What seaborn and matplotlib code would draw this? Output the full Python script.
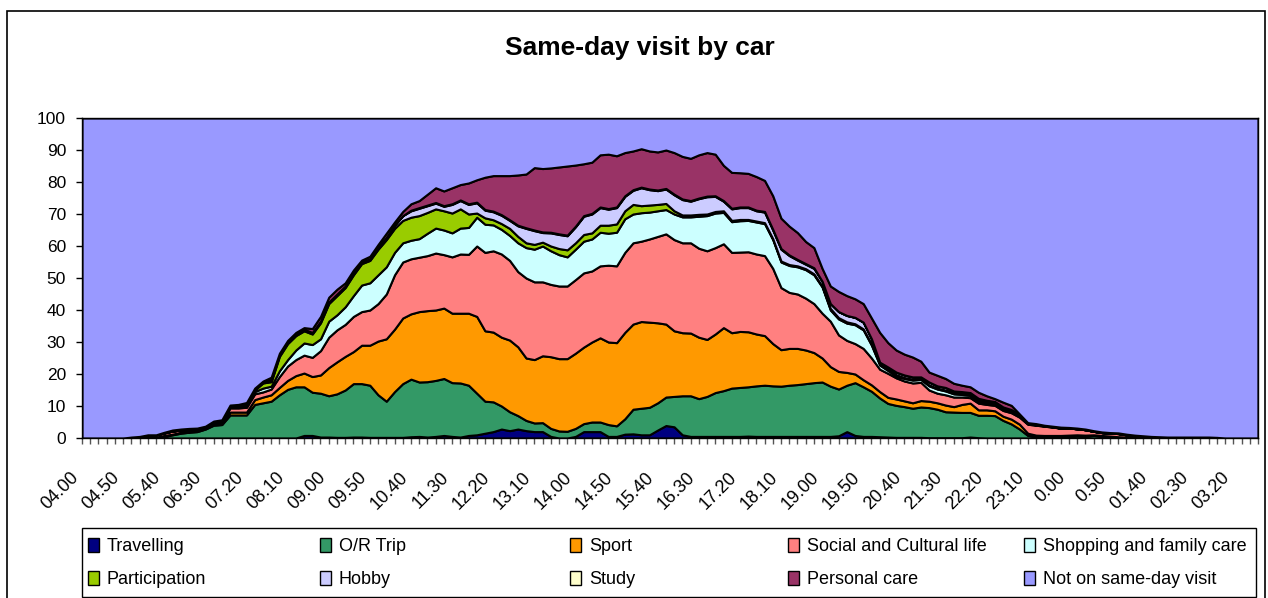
import matplotlib
matplotlib.use("Agg")
import matplotlib.pyplot as plt
import matplotlib.transforms as mtransforms
from matplotlib.patches import Patch, Rectangle
import numpy as np
import seaborn as sns

# 10-minute slots from 04.00 to 03.50 (144 slots), every 5th one labelled
tick_labels = ["04.00", "04.50", "05.40", "06.30", "07.20", "08.10", "09.00",
               "09.50", "10.40", "11.30", "12.20", "13.10", "14.00", "14.50",
               "15.40", "16.30", "17.20", "18.10", "19.00", "19.50", "20.40",
               "21.30", "22.20", "23.10", "0.00", "0.50", "01.40", "02.30", "03.20"]

# shares (%) of each activity
travelling = [0, 0, 0, 0, 0, 0, 0, 0, 0, 0, 0, 0,
              0, 0, 0, 0, 0, 0, 0, 0, 0, 0, 0, 0,
              0, 0, 0, 0.8, 0.8, 0.3, 0.3, 0.2, 0.2, 0.3, 0.3, 0.2,
              0.2, 0.2, 0.2, 0.2, 0.4, 0.5, 0.3, 0.5, 0.8, 0.5, 0.3, 0.8,
              1, 1.5, 2, 2.8, 2.3, 2.8, 2.3, 2, 2, 0.5, 0, 0,
              0.5, 2, 2, 2, 0.5, 0.5, 1.2, 1.3, 1, 1, 2.5, 3.9,
              3.5, 1, 0.5, 0.5, 0.5, 0.5, 0.5, 0.5, 0.5, 0.6, 0.5, 0.5,
              0.5, 0.5, 0.5, 0.5, 0.5, 0.5, 0.5, 0.5, 0.7, 2, 0.8, 0.5,
              0.5, 0.4, 0.3, 0.2, 0.2, 0.2, 0.2, 0.1, 0.1, 0.1, 0.1, 0.1,
              0.3, 0.1, 0, 0, 0, 0, 0, 0, 0, 0, 0, 0,
              0, 0, 0, 0, 0, 0, 0, 0, 0, 0, 0, 0,
              0, 0, 0, 0, 0, 0, 0, 0, 0, 0, 0, 0]
or_trip = [0, 0, 0, 0, 0, 0, 0, 0, 0.3, 0.3, 0.5, 1,
           1.5, 1.8, 2, 2.8, 4, 4.2, 7.2, 7.2, 7.2, 10.5, 11, 11.5,
           13.5, 15.2, 16, 15.2, 13.5, 13.7, 12.9, 13.6, 14.8, 16.7, 16.7, 16.3,
           13.3, 11.3, 14.3, 16.8, 18, 17, 17.3, 17.5, 17.8, 16.8, 16.9, 15.7,
           13, 10, 9.3, 7.2, 5.9, 4.2, 3.2, 2.7, 2.8, 2.5, 2.2, 2.1,
           2.5, 2.5, 3, 3, 3.7, 3.3, 4.8, 7.7, 8.3, 8.6, 8.5, 8.9,
           9.5, 12.2, 12.7, 11.8, 12.5, 13.7, 14.3, 15.1, 15.3, 15.4, 15.8, 16,
           15.8, 15.7, 16, 16.2, 16.5, 16.8, 17, 15.7, 14.6, 14.5, 16.5, 15.5,
           14.1, 12.1, 10.5, 10, 9.6, 9.1, 9.5, 9.4, 8.9, 8.1, 8, 7.9,
           7.7, 7, 7.1, 7, 5.5, 4.4, 2.8, 0.8, 0.5, 0.5, 0.5, 0.5,
           0.6, 0.7, 0.6, 0.8, 0.6, 0.4, 0.3, 0.2, 0.1, 0, 0, 0,
           0, 0, 0, 0, 0, 0, 0, 0, 0, 0, 0, 0]
sport = [0, 0, 0, 0, 0, 0, 0, 0, 0, 0, 0.3, 0.2,
         0.3, 0.2, 0.3, 0.4, 0.6, 0.5, 0.9, 0.9, 0.9, 1.5, 1.8, 2,
         2.3, 2.8, 3.5, 4.3, 4.9, 5.7, 8.8, 10, 10.5, 10, 12, 12.5,
         16.8, 19.5, 19.5, 20.5, 20.4, 22, 22.2, 22, 22, 21.7, 21.8, 22.5,
         24, 22, 21.8, 21.5, 22.4, 21.5, 19.5, 19.8, 20.9, 22.4, 22.6, 22.7,
         23.5, 23.9, 25, 26.3, 25.8, 26, 27, 26.6, 27.1, 26.6, 25, 22.8,
         20.5, 19.7, 19.6, 19.2, 17.8, 18.3, 19.7, 17.3, 17.5, 17.2, 16.2, 15.5,
         13.2, 11.4, 11.5, 11.3, 10.5, 9.4, 7.5, 6.1, 5.5, 4, 2.7, 2.2,
         2, 2, 1.9, 2, 1.8, 1.7, 2, 2, 2, 2.1, 1.7, 2.5,
         2.9, 1.7, 1.7, 1.5, 1.3, 1.5, 1.5, 0.7, 0.4, 0.3, 0.3, 0.3,
         0.3, 0.3, 0.3, 0.2, 0.2, 0.2, 0.1, 0.1, 0, 0, 0, 0,
         0, 0, 0, 0, 0, 0, 0, 0, 0, 0, 0, 0]
social = [0, 0, 0, 0, 0, 0, 0.3, 0.5, 0.7, 0.7, 0.8, 1.0,
          0.7, 0.6, 0.4, 0.3, 0.4, 0.4, 1.3, 1.3, 1.5, 1.8, 1.6, 1.8,
          3.4, 4.5, 5, 5.6, 6, 7.6, 9.5, 10, 10, 11, 10.5, 11,
          11.7, 14, 17, 17.5, 17.2, 17, 17.2, 17.8, 16.7, 17.6, 18.5, 18.4,
          22, 24.5, 25.4, 26, 24.9, 23.5, 25, 24.3, 23.1, 22.6, 22.7, 22.7,
          23, 23.2, 22.2, 22.5, 24, 24, 25, 25.4, 25.1, 26, 27, 28.2,
          28.5, 28.1, 28.2, 27.8, 27.7, 27, 26.2, 25.1, 24.8, 25, 25, 25,
          23.5, 19.4, 17.5, 17, 16.2, 15.3, 14, 14.2, 11.4, 10, 9.5, 9.8,
          8.4, 7, 7.5, 6.6, 6.2, 6.2, 5.7, 3.5, 3, 3.2, 3, 2.3,
          1.7, 2.1, 1.7, 1.7, 1.8, 2, 2.2, 2.8, 3.1, 2.9, 2.6, 2.3,
          2.2, 1.9, 1.7, 1.1, 0.9, 0.9, 1.0, 0.7, 0.6, 0.4, 0.2, 0.1,
          0, 0, 0, 0, 0, 0, 0, 0, 0, 0, 0, 0]
shopping = [0, 0, 0, 0, 0, 0, 0, 0, 0, 0, 0, 0,
            0, 0, 0, 0.1, 0.1, 0.2, 0.3, 0.3, 0.4, 0.7, 1.2, 0.9,
            1.8, 2, 3, 3.8, 4, 3.7, 5, 4.7, 5.5, 6.5, 8.3, 8.5,
            9, 8.5, 7, 6, 5.8, 5.8, 7, 7.8, 7.7, 7.5, 8.1, 8.4,
            9, 8.8, 8.1, 7.7, 7.8, 9, 9.5, 10.2, 11.2, 10.5, 9.8, 9.1,
            9.5, 9.9, 10, 10.5, 10, 10.5, 10.5, 9, 8.9, 8.4, 8, 7.6,
            8, 8.1, 8.1, 10, 11, 10.8, 9.8, 9.6, 9.8, 9.8, 10, 10,
            9, 8, 8.4, 8.5, 8.9, 9, 8.2, 3.5, 5, 5.4, 5.9, 5.8,
            4, 1.3, 0.9, 0.6, 0.8, 0.9, 0.9, 1.3, 1.3, 1.2, 1, 0.8,
            0.7, 0.6, 0.5, 0.5, 0.4, 0.4, 0.3, 0.2, 0.1, 0.1, 0.1, 0,
            0, 0, 0, 0, 0, 0, 0, 0, 0, 0, 0, 0,
            0, 0, 0, 0, 0, 0, 0, 0, 0, 0, 0, 0]
participation = [0, 0, 0, 0, 0, 0, 0, 0, 0, 0, 0, 0,
                 0, 0, 0, 0, 0, 0, 0.3, 0.4, 0.6, 0.5, 1.6, 1.4,
                 4.5, 5, 4.5, 3.8, 3.3, 5, 5.5, 6, 6, 6.5, 6.7, 7,
                 8, 8.5, 7.5, 7, 7.2, 7.2, 6.5, 6, 6, 6.2, 6, 4.2,
                 1.3, 2, 1.6, 1.8, 2.2, 2, 1.5, 1.5, 1.2, 1.5, 1.9, 2.2,
                 2, 2.1, 1.9, 2.2, 2.5, 2.6, 2.5, 3, 2.2, 2.2, 2, 1.9,
                 1, 0.6, 0.6, 0.6, 0.5, 0.5, 0.5, 0.4, 0.4, 0.3, 0.3, 0.3,
                 0.3, 0.3, 0.3, 0.3, 0.3, 0.3, 0.3, 0.5, 0.4, 0.4, 0.3, 0.3,
                 0.4, 0.4, 0.4, 0.4, 0.3, 0.3, 0.3, 0.3, 0.3, 0.3, 0.4, 0.4,
                 0.4, 0.3, 0.3, 0.3, 0.3, 0.2, 0.2, 0.1, 0.1, 0, 0, 0,
                 0, 0, 0, 0, 0, 0, 0, 0, 0, 0, 0, 0,
                 0, 0, 0, 0, 0, 0, 0, 0, 0, 0, 0, 0]
hobby = [0, 0, 0, 0, 0, 0, 0, 0, 0, 0, 0, 0,
         0, 0, 0, 0, 0, 0, 0, 0, 0.2, 0.3, 0.3, 0.6,
         0.5, 0.5, 0.5, 0.5, 0.5, 0.5, 0.5, 0.5, 0.5, 0.5, 0.5, 0.5,
         0.7, 0.7, 1, 1.5, 2, 2.3, 2.1, 1.8, 1.4, 2.7, 2.6, 3,
         3.2, 2.4, 2.5, 2.6, 2.5, 3.3, 4.5, 4.3, 3, 4.1, 4.4, 4.4,
         5, 5.7, 5.9, 5.5, 5, 5.1, 4.5, 4.4, 5.6, 4.8, 4.3, 4.5,
         5, 4.8, 4.3, 4.9, 5.4, 4.7, 3, 3.6, 3.7, 3.7, 3.2, 3.3,
         2.7, 3.7, 2.8, 1.8, 1.4, 1.7, 1.5, 1.5, 1.9, 2, 2, 2.1,
         1.6, 0.5, 0.7, 0.8, 0.8, 0.7, 0.5, 0.9, 0.7, 0.8, 0.5, 0.5,
         0.5, 0.6, 0.5, 0.4, 0.4, 0.4, 0.3, 0.1, 0.1, 0.1, 0.1, 0,
         0, 0, 0, 0, 0, 0, 0, 0, 0, 0, 0, 0,
         0, 0, 0, 0, 0, 0, 0, 0, 0, 0, 0, 0]
study = [0, 0, 0, 0, 0, 0, 0, 0, 0, 0, 0, 0,
         0, 0, 0, 0, 0, 0, 0, 0, 0, 0, 0, 0,
         0, 0, 0, 0, 0, 0, 0, 0, 0, 0, 0, 0,
         0, 0, 0, 0, 0.2, 0.2, 0.2, 0.2, 0.2, 0.2, 0.2, 0.2,
         0.2, 0.2, 0.2, 0.2, 0.2, 0.2, 0.2, 0.2, 0.2, 0.2, 0.2, 0.2,
         0.2, 0.2, 0.2, 0.2, 0.2, 0.2, 0.2, 0.2, 0.2, 0.2, 0.2, 0.2,
         0.2, 0.2, 0.2, 0.2, 0.2, 0.2, 0.2, 0.2, 0.2, 0.2, 0.2, 0.2,
         0.2, 0.2, 0.2, 0.2, 0.2, 0.2, 0, 0, 0, 0, 0, 0,
         0, 0, 0, 0, 0, 0, 0, 0, 0, 0, 0, 0,
         0, 0, 0, 0, 0, 0, 0, 0, 0, 0, 0, 0,
         0, 0, 0, 0, 0, 0, 0, 0, 0, 0, 0, 0,
         0, 0, 0, 0, 0, 0, 0, 0, 0, 0, 0, 0]
personal_care = [0, 0, 0, 0, 0, 0, 0, 0, 0, 0, 0.2, 0.3,
                 0.3, 0.4, 0.4, 0.1, 0.2, 0.4, 0.3, 0.4, 0.3, 0.3, 0.3, 0.8,
                 0.5, 0.5, 0.5, 0.5, 1.2, 1.5, 1.5, 1.5, 1, 1, 0.6, 0.8,
                 0.8, 1.3, 1, 1.3, 2, 2.2, 3.4, 4.6, 4.6, 5, 4.8, 6.5,
                 7, 10.1, 11.1, 12.2, 13.8, 15.7, 16.8, 19.5, 19.8, 20.1, 20.9, 21.6,
                 19.1, 16.2, 16, 16.3, 17, 16, 13.5, 12.1, 12, 11.9, 11.9, 12,
                 13, 13.3, 13.2, 13.5, 13.6, 13, 11, 11.2, 10.7, 10.5, 10.5, 9.7,
                 10.5, 9.5, 9, 8.4, 6.9, 6.3, 4, 5.5, 6.3, 6.2, 5.8, 5.8,
                 6.5, 9.3, 7.6, 6.9, 6.5, 6.2, 4.9, 3.1, 3.3, 2.8, 2.4, 2,
                 1.8, 1.9, 1.4, 0.9, 1.5, 1.3, 0.2, 0.1, 0.2, 0.1, 0.1, 0.3,
                 0.2, 0.2, 0.2, 0.2, 0.2, 0.2, 0.2, 0.2, 0.2, 0.3, 0.3, 0.3,
                 0.3, 0.3, 0.3, 0.3, 0.3, 0.3, 0.2, 0, 0, 0, 0, 0]

names = ["Travelling", "O/R Trip", "Sport", "Social and Cultural life",
         "Shopping and family care", "Participation", "Hobby", "Study",
         "Personal care", "Not on same-day visit"]
colors = ["#000080", "#339966", "#FF9900", "#FF8080", "#CCFFFF",
          "#99CC00", "#CCCCFF", "#FFFFCC", "#993366", "#9999FF"]

activities = np.array([travelling, or_trip, sport, social, shopping,
                       participation, hobby, study, personal_care])
# the remaining share of the population is not on a same-day visit
not_visit = 100 - activities.sum(axis=0)
layers = np.vstack([activities, not_visit])
x = np.arange(layers.shape[1])

sns.set_theme(style="white")
plt.rcParams["font.family"] = ["Liberation Sans", "DejaVu Sans"]
plt.rcParams["text.color"] = "black"
plt.rcParams["xtick.color"] = "black"
plt.rcParams["ytick.color"] = "black"

W, H = 1268, 598
fig = plt.figure(figsize=(W / 100, H / 100), dpi=100)
ax = fig.add_axes([82 / W, 1 - 438 / H, 1176 / W, 320 / H])

ax.stackplot(x, layers, colors=colors, edgecolor="black", linewidth=1.5)
ax.set_xlim(0, len(x) - 1)
ax.set_ylim(0, 100)
ax.set_yticks(range(0, 101, 10))

ax.set_xticks(np.arange(0, len(x), 5))
ax.set_xticklabels(tick_labels, rotation=45, ha="right", va="center",
                   rotation_mode="anchor", fontsize=13)
ax.set_xticks(x, minor=True)
ax.tick_params(axis="x", which="both", direction="out", length=4.5, width=1,
               color="#555555", bottom=True, pad=22)
ax.tick_params(axis="y", direction="out", length=4.5, width=1, color="black",
               left=True, pad=7, labelsize=12.5)
shift = mtransforms.ScaledTranslation(-0.06, 0, fig.dpi_scale_trans)
for lab in ax.get_xticklabels():
    lab.set_transform(lab.get_transform() + shift)

for sp in ax.spines.values():
    sp.set_color("black")
    sp.set_linewidth(1)

fig.text(640 / W, 1 - 48 / H, "Same-day visit by car", ha="center", va="center",
         fontsize=19, fontweight="bold", color="black")

# legend: 5 columns x 2 rows inside a box below the axis labels
col_x = [88, 320, 570, 788, 1024]
for c in range(5):
    idx = [c, c + 5]
    handles = [Patch(facecolor=colors[i], edgecolor="black", linewidth=1) for i in idx]
    fig.legend(handles, [names[i] for i in idx], loc="center left",
               bbox_to_anchor=(col_x[c] / W, 1 - 563 / H), frameon=False,
               fontsize=13, handlelength=0.6, handleheight=0.8,
               handletextpad=0.45, labelspacing=0.9, borderpad=0,
               borderaxespad=0)

fig.add_artist(Rectangle((82 / W, 0.002), 1174 / W, (597 - 528) / H,
                         transform=fig.transFigure, fill=False,
                         edgecolor="black", linewidth=1))
fig.add_artist(Rectangle((7 / W, -0.01), 1258 / W, (598 - 11) / H + 0.01,
                         transform=fig.transFigure, fill=False,
                         edgecolor="black", linewidth=1.2))

fig.savefig("out.png", dpi=100)
